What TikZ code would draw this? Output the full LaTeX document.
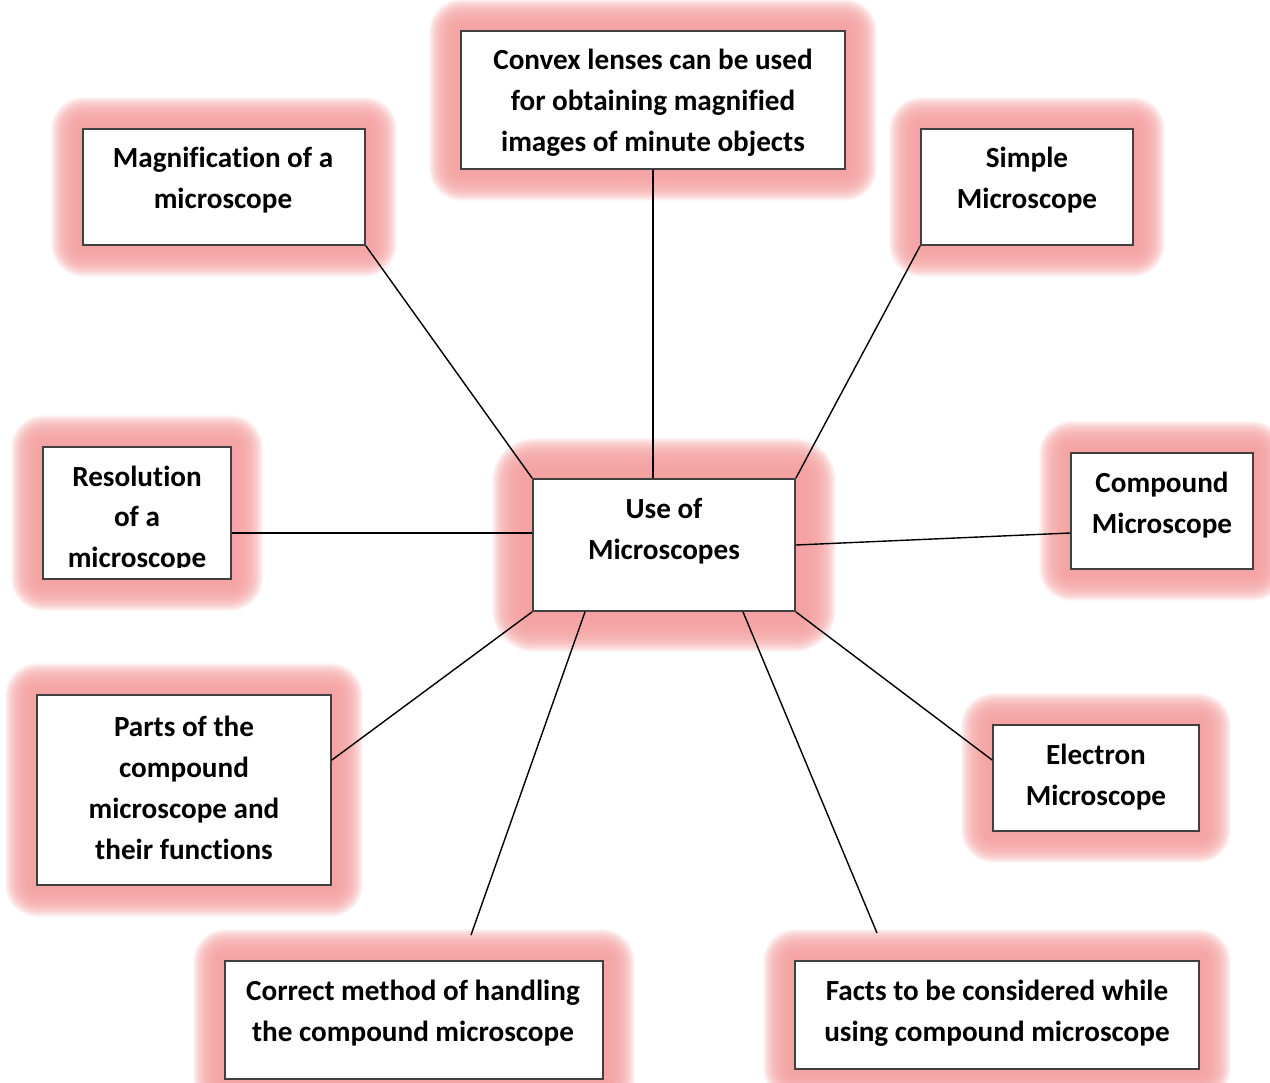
\documentclass[tikz,border=0pt]{standalone}
\usepackage{fontspec}
\setmainfont{Carlito}[Ligatures=NoCommon]
\usetikzlibrary{fit,backgrounds}
\definecolor{glowpink}{RGB}{244,160,160}
\definecolor{boxline}{RGB}{64,64,64}
\tikzset{
  box/.style={draw=boxline, fill=white, line width=1pt, inner sep=0pt},
  txt/.style={align=center, inner sep=0pt, font=\bfseries\fontsize{16.6}{23.25}\selectfont},
  link/.style={black, line width=0.8pt}
}
% pink halo behind a box: node name, outer spread in px
\newcommand{\glow}[2]{%
  \begin{pgfonlayer}{background}
    \foreach \d in {1,2,...,#2}
      \fill[glowpink, opacity=0.1, rounded corners=0.6*\d pt] ([shift={(-\d,\d)}]#1.south west) rectangle ([shift={(\d,-\d)}]#1.north east);
  \end{pgfonlayer}}
\begin{document}
\begin{tikzpicture}[x=0.02cm, y=-0.02cm]
  \useasboundingbox (0,0) rectangle (1270,1082);

  % boxes
  \node[box, fit={(461,31) (845,169)}] (convex) {};
  \node[box, fit={(83,129) (365,245)}] (mag) {};
  \node[box, fit={(921,129) (1133,245)}] (simple) {};
  \node[box, fit={(43,447) (231,579)}] (res) {};
  \node[box, fit={(533,479) (795,611)}] (use) {};
  \node[box, fit={(1071,453) (1253,569)}] (comp) {};
  \node[box, fit={(37,695) (331,885)}] (parts) {};
  \node[box, fit={(993,725) (1199,831)}] (elec) {};
  \node[box, fit={(225,961) (603,1079)}] (corr) {};
  \node[box, fit={(795,961) (1199,1069)}] (facts) {};

  \glow{convex}{31}
  \glow{mag}{31}
  \glow{simple}{31}
  \glow{res}{31}
  \glow{use}{40}
  \glow{comp}{31}
  \glow{parts}{31}
  \glow{elec}{31}
  \glow{corr}{31}
  \glow{facts}{31}

  % texts
  \node[txt] (convex-t) at (653,103) {Convex lenses can be used\\for obtaining magnified\\images of minute objects};
  \node[txt] (mag-t) at (223,180) {Magnification of a\\microscope};
  \node[txt] (simple-t) at (1027,180) {Simple\\Microscope};
  \begin{scope}
    \clip (43,447) rectangle (231,567);
    \node[txt] (res-t) at (137,519) {Resolution\\of a\\microscope};
  \end{scope}
  \node[txt] (use-t) at (664,531) {Use of\\Microscopes};
  \node[txt] (comp-t) at (1162,505) {Compound\\Microscope};
  \node[txt] (parts-t) at (184,788) {Parts of the\\compound\\microscope and\\their functions};
  \node[txt] (elec-t) at (1096,777) {Electron\\Microscope};
  \node[txt] (corr-t) at (413,1013) {Correct method of handling\\the compound microscope};
  \node[txt] (facts-t) at (997,1013) {Facts to be considered while\\using compound microscope};

  % connectors
  \coordinate (corr-end) at (471,935);
  \coordinate (facts-end) at (877,933);
  \draw[link] (mag.south east) -- (use.north west);
  \draw[link] (convex.south) -- (convex.south |- use.north);
  \draw[link] (simple.south west) -- (use.north east);
  \draw[link] (res.east |- 0,533) -- (use.west |- 0,533);
  \draw[link] (comp.west |- 0,533) -- (use.east |- 0,545);
  \draw[link] (parts.east |- 0,760) -- (use.south west);
  \draw[link] (corr-end) -- (use.south -| 585,0);
  \draw[link] (facts-end) -- (use.south -| 743,0);
  \draw[link] (elec.west |- 0,760) -- (use.south east);
\end{tikzpicture}
\end{document}
